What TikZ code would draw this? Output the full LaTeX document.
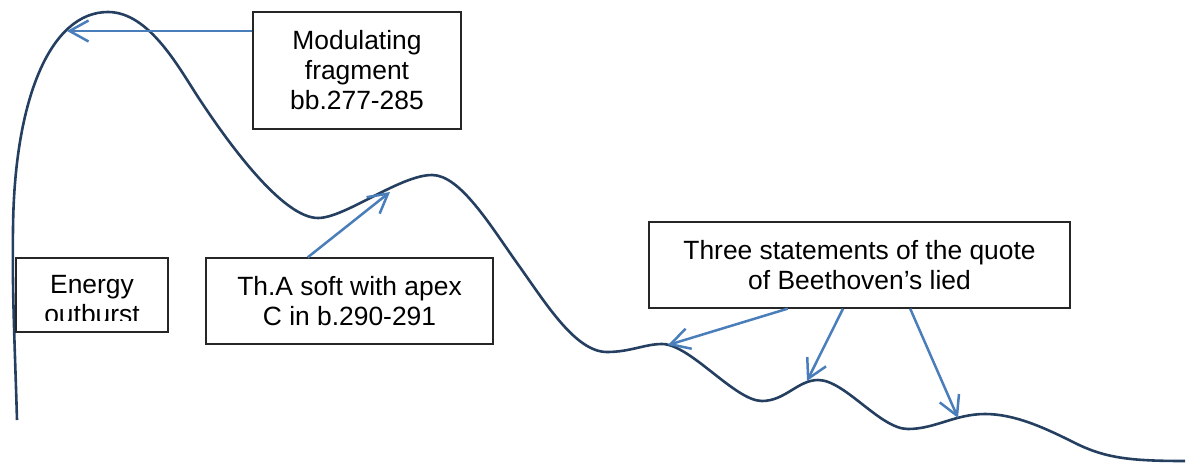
\documentclass[tikz,border=0pt]{standalone}
\usepackage{fontspec}
\setmainfont{Liberation Sans}
\usetikzlibrary{arrows.meta,calc}
\definecolor{curvecol}{RGB}{36,63,96}
\definecolor{arrcol}{RGB}{74,126,187}
\tikzset{
  box/.style={draw=black!85,line width=1.3pt,inner sep=0pt,align=center,
    font=\fontsize{26.4}{30}\selectfont},
  lbl/.style={inner sep=0pt,align=center,font=\fontsize{26.4}{30}\selectfont},
  arr/.style={draw=arrcol,line width=2.5pt,-{Straight Barb[length=19pt,width=21pt]}},
  wave/.style={draw=curvecol,line width=2.6pt}
}
\begin{document}
\begin{tikzpicture}[x=1pt,y=-1pt]
\useasboundingbox (0,0) rectangle (1193,466);
% curve
\draw[wave] (17,420) .. controls (15,350) and (12,290) .. (13,230)
  .. controls (14,100) and (50,12) .. (108,12)
  .. controls (150,12) and (180,70) .. (200,100)
  .. controls (235,153) and (285,218) .. (318,218)
  .. controls (345,218) and (400,175) .. (432,175)
  .. controls (460,175) and (490,225) .. (517,263)
  .. controls (545,302) and (575,352) .. (607,352)
  .. controls (630,352) and (645,344) .. (662,344)
  .. controls (690,344) and (735,401) .. (762,401)
  .. controls (785,401) and (798,380) .. (818,380)
  .. controls (845,380) and (880,429) .. (908,429)
  .. controls (935,429) and (955,414) .. (985,414)
  .. controls (1015,414) and (1045,428) .. (1075,443)
  .. controls (1105,458) and (1130,461) .. (1185,461);
% anchor points on curve
\coordinate (pA) at (67,31);
\coordinate (pB) at (390,192);
\coordinate (pC) at (668,345);
\coordinate (pD) at (807,381);
\coordinate (pE) at (958,418);
% boxes
\node[box,fill=white,minimum width=208pt,minimum height=117pt] (mod) at (357,70.5)
  {Modulating\\fragment\\bb.277-285};
\node[box,fill=white,minimum width=152pt,minimum height=74pt] (energy) at (92,295) {};
\begin{scope}
\clip (16,258) rectangle (168,320);
\node[lbl] (energytext) at (92,300) {Energy\\outburst};
\end{scope}
\node[box,fill=white,minimum width=287pt,minimum height=86pt] (tha) at (349.5,301)
  {Th.A soft with apex\\C in b.290-291};
\node[box,fill=white,minimum width=421pt,minimum height=86pt] (three) at (859.5,265)
  {Three statements of the quote\\of Beethoven’s lied};
% arrows
\draw[arr] (mod.west |- pA) -- (pA);
\draw[arr] ($(tha.north west)!0.355!(tha.north east)$) -- (pB);
\draw[arr] ($(three.south west)!0.33!(three.south east)$) -- (pC);
\draw[arr] ($(three.south west)!0.461!(three.south east)$) -- (pD);
\draw[arr] ($(three.south west)!0.62!(three.south east)$) -- (pE);
\end{tikzpicture}
\end{document}
